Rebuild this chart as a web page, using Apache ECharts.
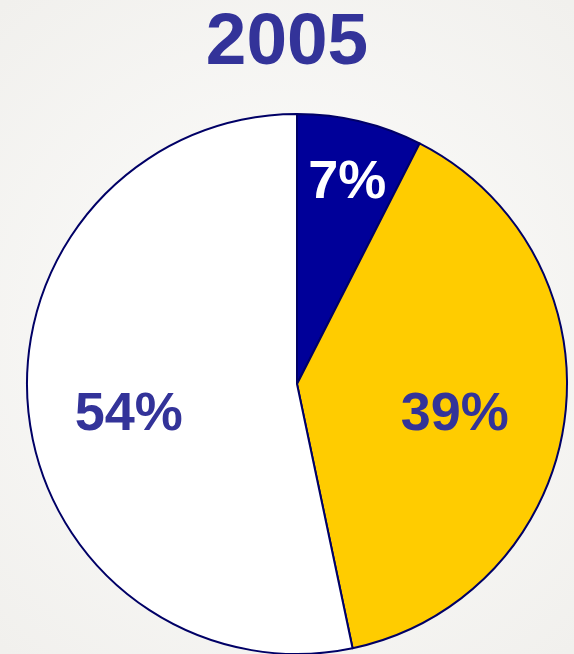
<!DOCTYPE html>
<html>
<head>
<meta charset="utf-8">
<script src="https://cdn.jsdelivr.net/npm/echarts@6/dist/echarts.min.js"></script>
<style>
html,body{margin:0;padding:0;background:#f7f6f3;}
#chart{width:574px;height:654px;}
</style>
</head>
<body>
<div id="chart"></div>
<script>
const titleText = '2005';
const sliceNames = ['A', 'B', 'C'];
const sliceValues = [7.5, 39.2, 53.3];
const sliceLabels = ['7%', '39%', '54%'];
const sliceColors = ['#000099', '#FFCC00', '#FFFFFF'];
const labelColors = ['#FFFFFF', '#333399', '#333399'];
const labelOffsets = [[18, -67], [21, 13], [-31, 17]];

const chart = echarts.init(document.getElementById('chart'));
chart.setOption({
  backgroundColor: {
    type: 'radial', x: 0.5, y: 0.5, r: 0.75,
    colorStops: [{offset: 0, color: '#fdfdfc'}, {offset: 1, color: '#f1f0ed'}]
  },
  animation: false,
  title: {
    text: titleText,
    left: 'center',
    top: 2,
    textStyle: {
      fontFamily: 'Liberation Sans, Arial, sans-serif',
      fontWeight: 'bold',
      fontSize: 73,
      color: '#333399'
    }
  },
  series: [{
    type: 'pie',
    center: [297, 384],
    radius: 270,
    startAngle: 90,
    clockwise: true,
    silent: true,
    itemStyle: { borderColor: '#000066', borderWidth: 2 },
    labelLine: { show: false },
    data: sliceValues.map((v, i) => ({
      name: sliceNames[i],
      value: v,
      itemStyle: { color: sliceColors[i] },
      label: {
        show: true,
        position: 'inside',
        formatter: sliceLabels[i],
        offset: labelOffsets[i],
        color: labelColors[i],
        fontFamily: 'Liberation Sans, Arial, sans-serif',
        fontWeight: 'bold',
        fontSize: 54
      }
    }))
  }]
});
</script>
</body>
</html>
